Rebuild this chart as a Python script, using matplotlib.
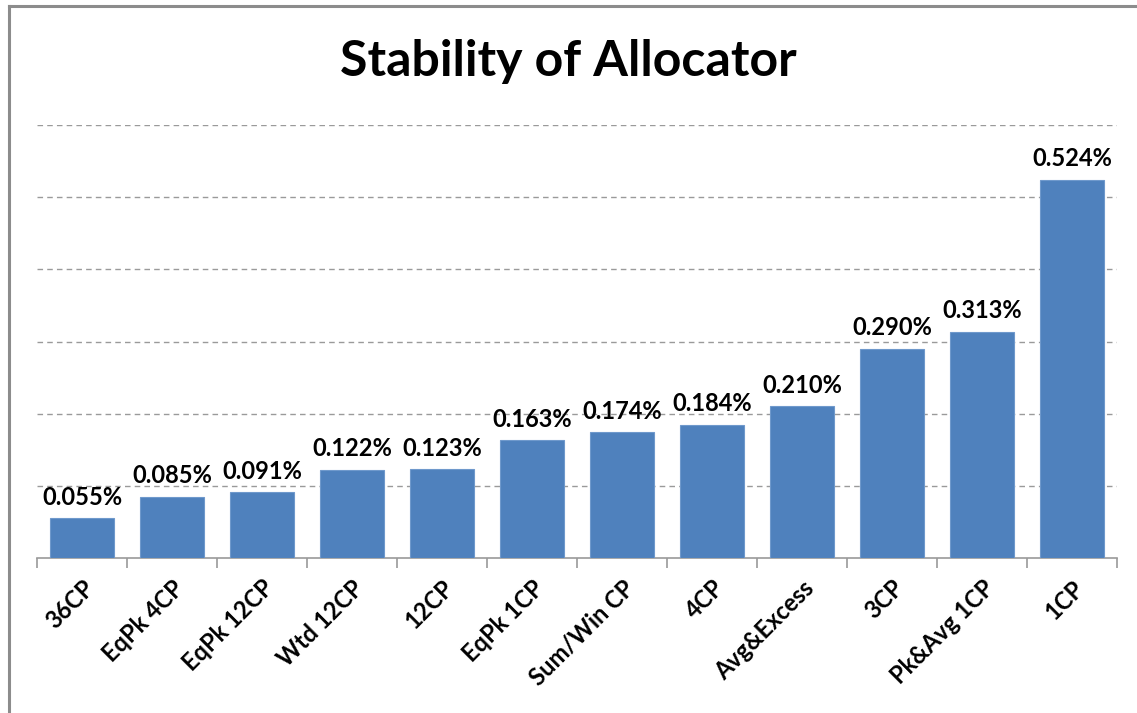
import matplotlib
matplotlib.use("Agg")
import matplotlib.pyplot as plt
from matplotlib.lines import Line2D

categories = ["36CP", "EqPk 4CP", "EqPk 12CP", "Wtd 12CP", "12CP", "EqPk 1CP",
              "Sum/Win CP", "4CP", "Avg&Excess", "3CP", "Pk&Avg 1CP", "1CP"]
values = [0.055, 0.085, 0.091, 0.122, 0.123, 0.163, 0.174, 0.184, 0.210, 0.290, 0.313, 0.524]
labels = ["0.055%", "0.085%", "0.091%", "0.122%", "0.123%", "0.163%", "0.174%",
          "0.184%", "0.210%", "0.290%", "0.313%", "0.524%"]

W, H = 1137, 713
fig = plt.figure(figsize=(W/100, H/100), dpi=100)
plt.rcParams['font.family'] = ['Lato', 'DejaVu Sans']

ax = fig.add_axes([37/W, 1-558/H, (1117-37)/W, (558-125)/H])
x = list(range(len(categories)))
bars = ax.bar(x, values, width=0.71, color="#4F81BD", edgecolor="#6F99CC", linewidth=0.8, zorder=3)
ax.set_xlim(-0.5, len(categories)-0.5)
ax.set_ylim(0, 0.6)
ax.set_yticks([0.1, 0.2, 0.3, 0.4, 0.5, 0.6])
ax.yaxis.grid(True, linestyle=(0, (4, 3)), color="#9A9A9A", linewidth=1)
ax.tick_params(axis='y', left=False, labelleft=False)
for s in ["left", "right", "top"]:
    ax.spines[s].set_visible(False)
ax.spines["bottom"].set_color("#9A9A9A")
ax.spines["bottom"].set_linewidth(1.2)

# category boundary ticks
ax.set_xticks([i - 0.5 for i in range(len(categories)+1)], minor=False)
ax.set_xticklabels([])
ax.tick_params(axis='x', which='major', length=7, color="#9A9A9A", width=1.2)
ax.set_xticks(x, minor=True)
ax.set_xticklabels(categories, minor=True, rotation=45, ha='right',
                   rotation_mode='anchor', fontsize=17, fontweight='bold')
ax.tick_params(axis='x', which='minor', length=0, pad=13)

for xi, v, lab in zip(x, values, labels):
    ax.annotate(lab, (xi, v), xytext=(0, 7), textcoords='offset points',
                ha='center', va='bottom', fontsize=17, fontweight='bold')

fig.text(0.5, 1-62/H, "Stability of Allocator", ha='center', va='center',
         fontsize=36, fontweight='bold')

# outer chart border (left and top)
fig.add_artist(Line2D([8.5/W, 8.5/W], [0, 1-6/H], color="#8C8C8C", linewidth=2.2, transform=fig.transFigure))
fig.add_artist(Line2D([8.5/W, 1], [1-6/H, 1-6/H], color="#8C8C8C", linewidth=2.2, transform=fig.transFigure))

fig.savefig("out.png", dpi=100)
